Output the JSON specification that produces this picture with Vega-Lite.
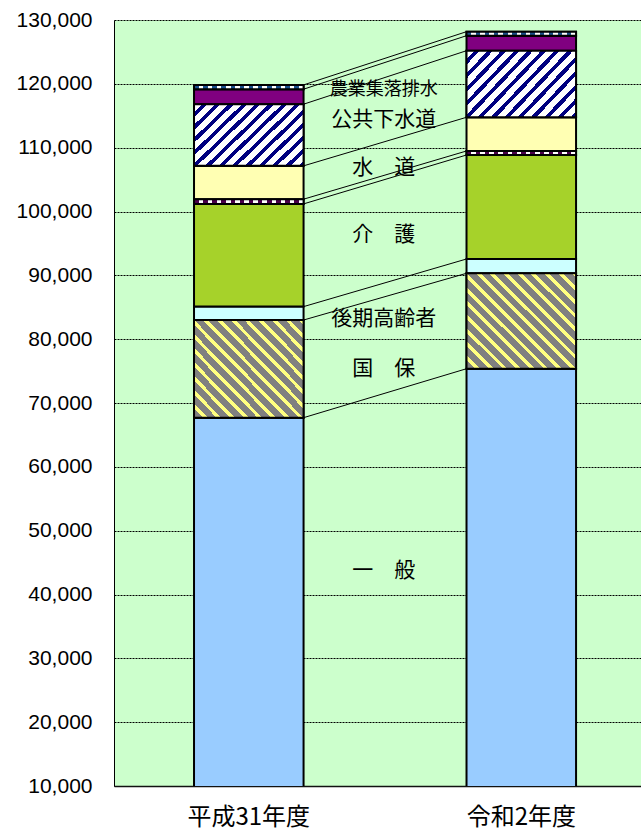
{
  "$schema": "https://vega.github.io/schema/vega-lite/v6.json",
  "width": 527,
  "height": 766,
  "autosize": {"type": "none"},
  "padding": {"left": 114, "top": 20, "right": 0, "bottom": 44},
  "background": "white",
  "config": {
    "view": {"fill": "#ccffcc", "stroke": null},
    "axis": {"labelColor": "#000", "title": null}
  },
  "datasets": {
    "budget": [
      {"year": "平成31年度", "series": "一般", "k": 1, "value": 67700},
      {"year": "平成31年度", "series": "国保", "k": 2, "value": 15300},
      {"year": "平成31年度", "series": "後期高齢者", "k": 3, "value": 2100},
      {"year": "平成31年度", "series": "介護", "k": 4, "value": 16090},
      {"year": "平成31年度", "series": "介護サービス", "k": 5, "value": 740},
      {"year": "平成31年度", "series": "水道", "k": 6, "value": 5220},
      {"year": "平成31年度", "series": "公共下水道", "k": 7, "value": 9660},
      {"year": "平成31年度", "series": "農業集落排水", "k": 8, "value": 2350},
      {"year": "平成31年度", "series": "その他", "k": 9, "value": 670},
      {"year": "令和2年度", "series": "一般", "k": 1, "value": 75370},
      {"year": "令和2年度", "series": "国保", "k": 2, "value": 14950},
      {"year": "令和2年度", "series": "後期高齢者", "k": 3, "value": 2240},
      {"year": "令和2年度", "series": "介護", "k": 4, "value": 16290},
      {"year": "令和2年度", "series": "介護サービス", "k": 5, "value": 630},
      {"year": "令和2年度", "series": "水道", "k": 6, "value": 5280},
      {"year": "令和2年度", "series": "公共下水道", "k": 7, "value": 10430},
      {"year": "令和2年度", "series": "農業集落排水", "k": 8, "value": 2350},
      {"year": "令和2年度", "series": "その他", "k": 9, "value": 630}
    ],
    "labels": [
      {"label": "農業集落排水", "y": 119034},
      {"label": "公共下水道", "y": 114256},
      {"label": "水　道", "y": 106815},
      {"label": "介　護", "y": 96319},
      {"label": "後期高齢者", "y": 83159},
      {"label": "国　保", "y": 75326},
      {"label": "一　般", "y": 43681}
    ]
  },
  "layer": [
    {
      "data": {"name": "budget"},
      "transform": [
        {"stack": "value", "groupby": ["year"], "sort": [{"field": "k", "order": "ascending"}], "as": ["v0", "v1"]}
      ],
      "mark": {"type": "bar", "stroke": "#000", "strokeWidth": 2, "clip": true},
      "encoding": {
        "x": {
          "field": "year", "type": "nominal",
          "scale": {"domain": ["平成31年度", "令和2年度"], "paddingInner": 0.598, "paddingOuter": 0.266, "align": 0.552},
          "axis": {"labelFont": "Noto Sans CJK JP", "labelFontSize": 24, "labelAngle": 0, "ticks": false, "labelPadding": 19, "domainColor": "#111", "domainWidth": 1.5, "grid": false}
        },
        "y": {
          "field": "v1", "type": "quantitative",
          "scale": {"domain": [10000, 130000], "nice": false, "zero": false},
          "axis": {
            "values": [10000, 20000, 30000, 40000, 50000, 60000, 70000, 80000, 90000, 100000, 110000, 120000, 130000],
            "format": ",d", "labelFont": "Liberation Sans", "labelFontSize": 21, "ticks": false, "labelPadding": 22,
            "domainColor": "#000", "domainWidth": 1, "grid": true, "gridColor": "#000", "gridDash": [2, 1], "gridOpacity": 1, "gridWidth": 1
          }
        },
        "y2": {"field": "v0"},
        "color": {
          "field": "series", "type": "nominal", "legend": null,
          "scale": {
            "domain": ["一般", "国保", "後期高齢者", "介護", "介護サービス", "水道", "公共下水道", "農業集落排水", "その他"],
            "range": ["#99ccff", "#808080", "#ccffff", "#a6d22a", "#4b004b", "#ffffb3", "#ffffff", "#800080", "#1a4f8a"]
          }
        }
      }
    },
    {
      "data": {"name": "budget"},
      "transform": [
        {"stack": "value", "groupby": ["year"], "sort": [{"field": "k", "order": "ascending"}], "as": ["v0", "v1"]},
        {"filter": "datum.series === '国保'"}
      ],
      "mark": {
        "type": "bar", "stroke": "#000", "strokeWidth": 2, "clip": true,
        "fill": {"gradient": "linear", "x1": 0, "y1": 1, "x2": 1.063, "y2": 0.072, "stops": [
          {"offset": 0, "color": "#808080"}, {"offset": 0.0433, "color": "#808080"}, {"offset": 0.0433, "color": "#ffff80"}, {"offset": 0.0667, "color": "#ffff80"},
          {"offset": 0.0667, "color": "#808080"}, {"offset": 0.11, "color": "#808080"}, {"offset": 0.11, "color": "#ffff80"}, {"offset": 0.1333, "color": "#ffff80"},
          {"offset": 0.1333, "color": "#808080"}, {"offset": 0.1767, "color": "#808080"}, {"offset": 0.1767, "color": "#ffff80"}, {"offset": 0.2, "color": "#ffff80"},
          {"offset": 0.2, "color": "#808080"}, {"offset": 0.2433, "color": "#808080"}, {"offset": 0.2433, "color": "#ffff80"}, {"offset": 0.2667, "color": "#ffff80"},
          {"offset": 0.2667, "color": "#808080"}, {"offset": 0.31, "color": "#808080"}, {"offset": 0.31, "color": "#ffff80"}, {"offset": 0.3333, "color": "#ffff80"},
          {"offset": 0.3333, "color": "#808080"}, {"offset": 0.3767, "color": "#808080"}, {"offset": 0.3767, "color": "#ffff80"}, {"offset": 0.4, "color": "#ffff80"},
          {"offset": 0.4, "color": "#808080"}, {"offset": 0.4433, "color": "#808080"}, {"offset": 0.4433, "color": "#ffff80"}, {"offset": 0.4667, "color": "#ffff80"},
          {"offset": 0.4667, "color": "#808080"}, {"offset": 0.51, "color": "#808080"}, {"offset": 0.51, "color": "#ffff80"}, {"offset": 0.5333, "color": "#ffff80"},
          {"offset": 0.5333, "color": "#808080"}, {"offset": 0.5767, "color": "#808080"}, {"offset": 0.5767, "color": "#ffff80"}, {"offset": 0.6, "color": "#ffff80"},
          {"offset": 0.6, "color": "#808080"}, {"offset": 0.6433, "color": "#808080"}, {"offset": 0.6433, "color": "#ffff80"}, {"offset": 0.6667, "color": "#ffff80"},
          {"offset": 0.6667, "color": "#808080"}, {"offset": 0.71, "color": "#808080"}, {"offset": 0.71, "color": "#ffff80"}, {"offset": 0.7333, "color": "#ffff80"},
          {"offset": 0.7333, "color": "#808080"}, {"offset": 0.7767, "color": "#808080"}, {"offset": 0.7767, "color": "#ffff80"}, {"offset": 0.8, "color": "#ffff80"},
          {"offset": 0.8, "color": "#808080"}, {"offset": 0.8433, "color": "#808080"}, {"offset": 0.8433, "color": "#ffff80"}, {"offset": 0.8667, "color": "#ffff80"},
          {"offset": 0.8667, "color": "#808080"}, {"offset": 0.91, "color": "#808080"}, {"offset": 0.91, "color": "#ffff80"}, {"offset": 0.9333, "color": "#ffff80"},
          {"offset": 0.9333, "color": "#808080"}, {"offset": 0.9767, "color": "#808080"}, {"offset": 0.9767, "color": "#ffff80"}, {"offset": 1, "color": "#ffff80"}
        ]}
      },
      "encoding": {
        "x": {"field": "year", "type": "nominal"},
        "y": {"field": "v1", "type": "quantitative"},
        "y2": {"field": "v0"}
      }
    },
    {
      "data": {"name": "budget"},
      "transform": [
        {"stack": "value", "groupby": ["year"], "sort": [{"field": "k", "order": "ascending"}], "as": ["v0", "v1"]},
        {"filter": "datum.series === '公共下水道'"}
      ],
      "mark": {
        "type": "bar", "stroke": "#000", "strokeWidth": 2, "clip": true,
        "fill": {"gradient": "linear", "x1": 0, "y1": 0, "x2": 1.182, "y2": 0.688, "stops": [
          {"offset": 0, "color": "#ffffff"}, {"offset": 0.0462, "color": "#ffffff"}, {"offset": 0.0462, "color": "#000080"}, {"offset": 0.0769, "color": "#000080"},
          {"offset": 0.0769, "color": "#ffffff"}, {"offset": 0.1231, "color": "#ffffff"}, {"offset": 0.1231, "color": "#000080"}, {"offset": 0.1538, "color": "#000080"},
          {"offset": 0.1538, "color": "#ffffff"}, {"offset": 0.2, "color": "#ffffff"}, {"offset": 0.2, "color": "#000080"}, {"offset": 0.2308, "color": "#000080"},
          {"offset": 0.2308, "color": "#ffffff"}, {"offset": 0.2769, "color": "#ffffff"}, {"offset": 0.2769, "color": "#000080"}, {"offset": 0.3077, "color": "#000080"},
          {"offset": 0.3077, "color": "#ffffff"}, {"offset": 0.3538, "color": "#ffffff"}, {"offset": 0.3538, "color": "#000080"}, {"offset": 0.3846, "color": "#000080"},
          {"offset": 0.3846, "color": "#ffffff"}, {"offset": 0.4308, "color": "#ffffff"}, {"offset": 0.4308, "color": "#000080"}, {"offset": 0.4615, "color": "#000080"},
          {"offset": 0.4615, "color": "#ffffff"}, {"offset": 0.5077, "color": "#ffffff"}, {"offset": 0.5077, "color": "#000080"}, {"offset": 0.5385, "color": "#000080"},
          {"offset": 0.5385, "color": "#ffffff"}, {"offset": 0.5846, "color": "#ffffff"}, {"offset": 0.5846, "color": "#000080"}, {"offset": 0.6154, "color": "#000080"},
          {"offset": 0.6154, "color": "#ffffff"}, {"offset": 0.6615, "color": "#ffffff"}, {"offset": 0.6615, "color": "#000080"}, {"offset": 0.6923, "color": "#000080"},
          {"offset": 0.6923, "color": "#ffffff"}, {"offset": 0.7385, "color": "#ffffff"}, {"offset": 0.7385, "color": "#000080"}, {"offset": 0.7692, "color": "#000080"},
          {"offset": 0.7692, "color": "#ffffff"}, {"offset": 0.8154, "color": "#ffffff"}, {"offset": 0.8154, "color": "#000080"}, {"offset": 0.8462, "color": "#000080"},
          {"offset": 0.8462, "color": "#ffffff"}, {"offset": 0.8923, "color": "#ffffff"}, {"offset": 0.8923, "color": "#000080"}, {"offset": 0.9231, "color": "#000080"},
          {"offset": 0.9231, "color": "#ffffff"}, {"offset": 0.9692, "color": "#ffffff"}, {"offset": 0.9692, "color": "#000080"}, {"offset": 1, "color": "#000080"}
        ]}
      },
      "encoding": {
        "x": {"field": "year", "type": "nominal"},
        "y": {"field": "v1", "type": "quantitative"},
        "y2": {"field": "v0"}
      }
    },
    {
      "data": {"name": "budget"},
      "transform": [
        {"stack": "value", "groupby": ["year"], "sort": [{"field": "k", "order": "ascending"}], "as": ["v0", "v1"]},
        {"filter": "datum.series === '介護サービス'"}
      ],
      "mark": {
        "type": "bar", "stroke": "#000", "strokeWidth": 2, "clip": true,
        "fill": {"gradient": "linear", "x1": 0, "y1": 0, "x2": 1, "y2": 0, "stops": [
          {"offset": 0, "color": "#4b004b"}, {"offset": 0.0417, "color": "#4b004b"}, {"offset": 0.0417, "color": "#ffffff"}, {"offset": 0.0833, "color": "#ffffff"},
          {"offset": 0.0833, "color": "#4b004b"}, {"offset": 0.125, "color": "#4b004b"}, {"offset": 0.125, "color": "#ffffff"}, {"offset": 0.1667, "color": "#ffffff"},
          {"offset": 0.1667, "color": "#4b004b"}, {"offset": 0.2083, "color": "#4b004b"}, {"offset": 0.2083, "color": "#ffffff"}, {"offset": 0.25, "color": "#ffffff"},
          {"offset": 0.25, "color": "#4b004b"}, {"offset": 0.2917, "color": "#4b004b"}, {"offset": 0.2917, "color": "#ffffff"}, {"offset": 0.3333, "color": "#ffffff"},
          {"offset": 0.3333, "color": "#4b004b"}, {"offset": 0.375, "color": "#4b004b"}, {"offset": 0.375, "color": "#ffffff"}, {"offset": 0.4167, "color": "#ffffff"},
          {"offset": 0.4167, "color": "#4b004b"}, {"offset": 0.4583, "color": "#4b004b"}, {"offset": 0.4583, "color": "#ffffff"}, {"offset": 0.5, "color": "#ffffff"},
          {"offset": 0.5, "color": "#4b004b"}, {"offset": 0.5417, "color": "#4b004b"}, {"offset": 0.5417, "color": "#ffffff"}, {"offset": 0.5833, "color": "#ffffff"},
          {"offset": 0.5833, "color": "#4b004b"}, {"offset": 0.625, "color": "#4b004b"}, {"offset": 0.625, "color": "#ffffff"}, {"offset": 0.6667, "color": "#ffffff"},
          {"offset": 0.6667, "color": "#4b004b"}, {"offset": 0.7083, "color": "#4b004b"}, {"offset": 0.7083, "color": "#ffffff"}, {"offset": 0.75, "color": "#ffffff"},
          {"offset": 0.75, "color": "#4b004b"}, {"offset": 0.7917, "color": "#4b004b"}, {"offset": 0.7917, "color": "#ffffff"}, {"offset": 0.8333, "color": "#ffffff"},
          {"offset": 0.8333, "color": "#4b004b"}, {"offset": 0.875, "color": "#4b004b"}, {"offset": 0.875, "color": "#ffffff"}, {"offset": 0.9167, "color": "#ffffff"},
          {"offset": 0.9167, "color": "#4b004b"}, {"offset": 0.9583, "color": "#4b004b"}, {"offset": 0.9583, "color": "#ffffff"}, {"offset": 1, "color": "#ffffff"}
        ]}
      },
      "encoding": {
        "x": {"field": "year", "type": "nominal"},
        "y": {"field": "v1", "type": "quantitative"},
        "y2": {"field": "v0"}
      }
    },
    {
      "data": {"name": "budget"},
      "transform": [
        {"stack": "value", "groupby": ["year"], "sort": [{"field": "k", "order": "ascending"}], "as": ["v0", "v1"]},
        {"filter": "datum.series === 'その他'"}
      ],
      "mark": {
        "type": "bar", "stroke": "#000", "strokeWidth": 2, "clip": true,
        "fill": {"gradient": "linear", "x1": 0, "y1": 0, "x2": 1, "y2": 0, "stops": [
          {"offset": 0, "color": "#1a4f8a"}, {"offset": 0.0417, "color": "#1a4f8a"}, {"offset": 0.0417, "color": "#ffffff"}, {"offset": 0.0833, "color": "#ffffff"},
          {"offset": 0.0833, "color": "#1a4f8a"}, {"offset": 0.125, "color": "#1a4f8a"}, {"offset": 0.125, "color": "#ffffff"}, {"offset": 0.1667, "color": "#ffffff"},
          {"offset": 0.1667, "color": "#1a4f8a"}, {"offset": 0.2083, "color": "#1a4f8a"}, {"offset": 0.2083, "color": "#ffffff"}, {"offset": 0.25, "color": "#ffffff"},
          {"offset": 0.25, "color": "#1a4f8a"}, {"offset": 0.2917, "color": "#1a4f8a"}, {"offset": 0.2917, "color": "#ffffff"}, {"offset": 0.3333, "color": "#ffffff"},
          {"offset": 0.3333, "color": "#1a4f8a"}, {"offset": 0.375, "color": "#1a4f8a"}, {"offset": 0.375, "color": "#ffffff"}, {"offset": 0.4167, "color": "#ffffff"},
          {"offset": 0.4167, "color": "#1a4f8a"}, {"offset": 0.4583, "color": "#1a4f8a"}, {"offset": 0.4583, "color": "#ffffff"}, {"offset": 0.5, "color": "#ffffff"},
          {"offset": 0.5, "color": "#1a4f8a"}, {"offset": 0.5417, "color": "#1a4f8a"}, {"offset": 0.5417, "color": "#ffffff"}, {"offset": 0.5833, "color": "#ffffff"},
          {"offset": 0.5833, "color": "#1a4f8a"}, {"offset": 0.625, "color": "#1a4f8a"}, {"offset": 0.625, "color": "#ffffff"}, {"offset": 0.6667, "color": "#ffffff"},
          {"offset": 0.6667, "color": "#1a4f8a"}, {"offset": 0.7083, "color": "#1a4f8a"}, {"offset": 0.7083, "color": "#ffffff"}, {"offset": 0.75, "color": "#ffffff"},
          {"offset": 0.75, "color": "#1a4f8a"}, {"offset": 0.7917, "color": "#1a4f8a"}, {"offset": 0.7917, "color": "#ffffff"}, {"offset": 0.8333, "color": "#ffffff"},
          {"offset": 0.8333, "color": "#1a4f8a"}, {"offset": 0.875, "color": "#1a4f8a"}, {"offset": 0.875, "color": "#ffffff"}, {"offset": 0.9167, "color": "#ffffff"},
          {"offset": 0.9167, "color": "#1a4f8a"}, {"offset": 0.9583, "color": "#1a4f8a"}, {"offset": 0.9583, "color": "#ffffff"}, {"offset": 1, "color": "#ffffff"}
        ]}
      },
      "encoding": {
        "x": {"field": "year", "type": "nominal"},
        "y": {"field": "v1", "type": "quantitative"},
        "y2": {"field": "v0"}
      }
    },
    {
      "data": {"name": "budget"},
      "transform": [
        {"stack": "value", "groupby": ["year"], "sort": [{"field": "k", "order": "ascending"}], "as": ["v0", "v1"]},
        {"pivot": "year", "value": "v1", "groupby": ["series"]}
      ],
      "mark": {"type": "rule", "color": "#000", "strokeWidth": 1},
      "encoding": {
        "x": {"datum": "平成31年度", "bandPosition": 1},
        "x2": {"datum": "令和2年度", "bandPosition": 0},
        "y": {"field": "平成31年度", "type": "quantitative"},
        "y2": {"field": "令和2年度"}
      }
    },
    {
      "data": {"name": "labels"},
      "mark": {"type": "text", "font": "Noto Sans CJK JP", "color": "#000", "dx": 135, "align": "center", "baseline": "middle"},
      "encoding": {
        "x": {"datum": "平成31年度"},
        "y": {"field": "y", "type": "quantitative"},
        "text": {"field": "label"},
        "size": {"condition": {"test": "datum.label === '農業集落排水'", "value": 18}, "value": 21}
      }
    }
  ]
}
